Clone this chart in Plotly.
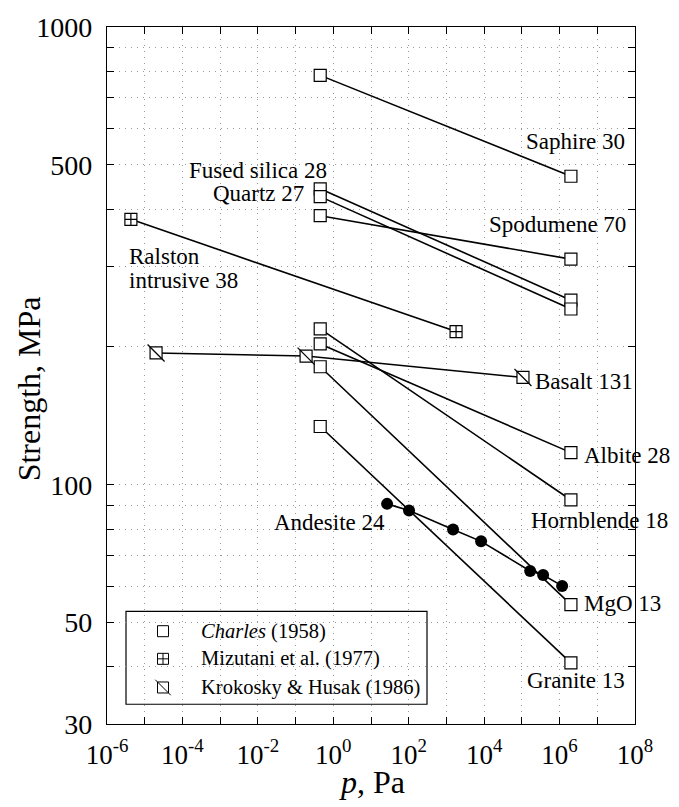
import numpy as np
import plotly.graph_objects as go

# ---------------- data ----------------
# Charles (1958): pairs (p, strength) at p ~ 0.45 Pa and p ~ 2e6 Pa
charles_names = ["Saphire 30", "Fused silica 28", "Quartz 27", "Spodumene 70",
                 "Hornblende 18", "Albite 28", "MgO 13", "Granite 13"]
charles_p = [[0.45, 2.0e6]] * 8
charles_s = [[784, 472], [443, 253], [426, 242], [387, 311],
             [219, 92.6], [203, 117.5], [181, 54.7], [134, 40.8]]

# Mizutani et al. (1977): Ralston intrusive 38
mizutani_p = [4.3e-6, 1.8e3]
mizutani_s = [380, 216]

# Krokosky & Husak (1986): Basalt 131
krokosky_p = [2.0e-5, 0.19, 1.07e5]
krokosky_s = [194, 191, 171.5]

# Andesite 24 (filled circles)
andesite_p = [26.7, 102, 1500, 8300, 1.66e5, 3.66e5, 1.17e6]
andesite_s = [90.8, 87.8, 79.8, 75.2, 64.8, 63.5, 60.1]

x_tick_exp = list(range(-6, 9))
y_grid = [30, 40, 50, 60, 70, 80, 90, 100, 200, 300, 400, 500, 600, 700, 800, 900, 1000]
y_labels = {30: "30", 50: "50", 100: "100", 500: "500", 1000: "1000"}

FONT = "Liberation Serif"
LINE = dict(color="black", width=1.6)

fig = go.Figure()

for p, s in zip(charles_p, charles_s):
    fig.add_trace(go.Scatter(x=p, y=s, mode="lines+markers", line=LINE,
                             marker=dict(symbol="square", size=12, color="white",
                                         line=dict(color="black", width=1.2)),
                             showlegend=False, hoverinfo="skip"))

fig.add_trace(go.Scatter(x=mizutani_p, y=mizutani_s, mode="lines+markers", line=LINE,
                         marker=dict(symbol="square-cross", size=12, color="white",
                                     line=dict(color="black", width=1.2)),
                         showlegend=False, hoverinfo="skip"))

fig.add_trace(go.Scatter(x=krokosky_p, y=krokosky_s, mode="lines+markers", line=LINE,
                         marker=dict(symbol="square", size=12, color="white",
                                     line=dict(color="black", width=1.2)),
                         showlegend=False, hoverinfo="skip"))
fig.add_trace(go.Scatter(x=krokosky_p, y=krokosky_s, mode="markers",
                         marker=dict(symbol="line-nw", size=17,
                                     line=dict(color="black", width=1.2)),
                         showlegend=False, hoverinfo="skip"))

fig.add_trace(go.Scatter(x=andesite_p, y=andesite_s, mode="lines+markers", line=LINE,
                         marker=dict(symbol="circle", size=12, color="black"),
                         showlegend=False, hoverinfo="skip"))

# ---------- overlay pixel axis for labels / legend ----------
L, R, T, B = 107, 635, 18, 724
W, H = 679, 807

leg_x = 163
leg_rows = [630, 658, 687]
fig.add_trace(go.Scatter(x=[leg_x], y=[leg_rows[0]], xaxis="x2", yaxis="y2", mode="markers",
                         marker=dict(symbol="square", size=11, color="white",
                                     line=dict(color="black", width=1)),
                         showlegend=False, hoverinfo="skip"))
fig.add_trace(go.Scatter(x=[leg_x], y=[leg_rows[1]], xaxis="x2", yaxis="y2", mode="markers",
                         marker=dict(symbol="square-cross", size=11, color="white",
                                     line=dict(color="black", width=1)),
                         showlegend=False, hoverinfo="skip"))
fig.add_trace(go.Scatter(x=[leg_x], y=[leg_rows[2]], xaxis="x2", yaxis="y2", mode="markers",
                         marker=dict(symbol="square", size=11, color="white",
                                     line=dict(color="black", width=1)),
                         showlegend=False, hoverinfo="skip"))
fig.add_trace(go.Scatter(x=[leg_x], y=[leg_rows[2]], xaxis="x2", yaxis="y2", mode="markers",
                         marker=dict(symbol="line-nw", size=15.5, line=dict(color="black", width=1)),
                         showlegend=False, hoverinfo="skip"))

legend_texts = ["<i>Charles</i> (1958)", "Mizutani et al. (1977)", "Krokosky &amp; Husak (1986)"]
annotations = []
for t, yy in zip(legend_texts, leg_rows):
    annotations.append(dict(x=199, y=yy, xref="x2", yref="y2", text=t, showarrow=False,
                            xanchor="left", yanchor="middle",
                            font=dict(family=FONT, size=20.5, color="black")))

labels = [
    ("Saphire 30", 627, 134, "right"),
    ("Fused silica 28", 329, 163, "right"),
    ("Quartz 27", 306, 187, "right"),
    ("Spodumene 70", 628, 218, "right"),
    ("Ralston", 127, 250, "left"),
    ("intrusive 38", 127, 275, "left"),
    ("Basalt 131", 533, 377, "left"),
    ("Albite 28", 582, 452, "left"),
    ("Hornblende 18", 529, 518, "left"),
    ("Andesite 24", 387, 520, "right"),
    ("MgO 13", 582, 602, "left"),
    ("Granite 13", 525, 680, "left"),
]
for t, xx, yy, anc in labels:
    annotations.append(dict(x=xx, y=yy, xref="x2", yref="y2", text=t, showarrow=False,
                            xanchor=anc, yanchor="middle", align="left",
                            font=dict(family=FONT, size=23, color="black")))

# Axis titles placed precisely (paper coords computed from pixel targets)
PW, PH = R - L, B - T
annotations.append(dict(x=(29 - L) / PW, y=(B - 385) / PH, xref="paper", yref="paper",
                        text="Strength, MPa", textangle=-90, showarrow=False,
                        xanchor="center", yanchor="middle",
                        font=dict(family=FONT, size=32, color="black")))
annotations.append(dict(x=(372 - L) / PW, y=(B - 783) / PH, xref="paper", yref="paper",
                        text="<i>p</i>, Pa", showarrow=False,
                        xanchor="center", yanchor="middle",
                        font=dict(family=FONT, size=32, color="black")))

shapes = [dict(type="rect", xref="x2", yref="y2", x0=126, x1=427, y0=610, y1=704,
               line=dict(color="black", width=1.2), fillcolor="white", layer="below")]

x_ticktext = [("10<sup>%d</sup>" % e) if e % 2 == 0 else "" for e in x_tick_exp]
y_ticktext = [y_labels.get(v, "") for v in y_grid]

GRID = dict(showgrid=True, gridcolor="#999", griddash="1px,5px", gridwidth=1)

fig.update_layout(
    width=W, height=H,
    margin=dict(l=L, r=W - R, t=T, b=H - B),
    paper_bgcolor="white", plot_bgcolor="white",
    font=dict(family=FONT, color="black"),
    xaxis=dict(type="log", range=[-6, 8], tickmode="array",
               tickvals=[10.0 ** e for e in x_tick_exp], ticktext=x_ticktext,
               ticks="inside", ticklen=7, tickcolor="black", ticklabelstandoff=6,
               showline=True, linecolor="black", linewidth=1.2, mirror="ticks",
               zeroline=False, tickfont=dict(size=27, family=FONT),
               **GRID),
    yaxis=dict(type="log", range=[np.log10(30), 3], tickmode="array",
               tickvals=y_grid, ticktext=y_ticktext,
               ticks="inside", ticklen=7, tickcolor="black", ticklabelstandoff=8,
               showline=True, linecolor="black", linewidth=1.2, mirror="ticks",
               zeroline=False, tickfont=dict(size=28, family=FONT),
               **GRID),
    xaxis2=dict(range=[L, R], overlaying="x", visible=False, fixedrange=True),
    yaxis2=dict(range=[B, T], overlaying="y", visible=False, fixedrange=True, anchor="x2"),
    annotations=annotations,
    shapes=shapes,
    showlegend=False,
)

fig.write_html("out.html")
